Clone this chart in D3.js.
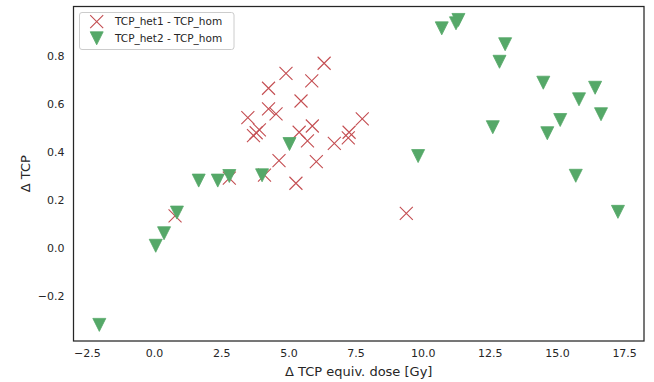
<!DOCTYPE html>
<html>
<head>
<meta charset="utf-8">
<script src="https://cdn.jsdelivr.net/npm/d3@7"></script>
<style>
  body { margin: 0; background: #fff; }
  svg { display: block; font-family: "DejaVu Sans", sans-serif; }
</style>
</head>
<body>
<svg width="654" height="382"></svg>
<script>
// Серия 1: TCP_het1 - TCP_hom (красные крестики)
const het1X = [6.33, 4.91, 5.87, 4.26, 5.47, 4.26, 4.54, 3.49, 7.75, 3.70, 3.80, 3.92,
               5.40, 5.89, 5.71, 6.71, 7.26, 7.23, 4.65, 6.04, 4.11, 5.28, 2.80, 0.78, 9.39];
const het1Y = [0.769, 0.727, 0.696, 0.665, 0.612, 0.579, 0.558, 0.543, 0.538, 0.468, 0.480, 0.492,
               0.482, 0.508, 0.446, 0.436, 0.482, 0.459, 0.364, 0.360, 0.304, 0.270, 0.291, 0.134, 0.145];

// Серия 2: TCP_het2 - TCP_hom (зелёные треугольники)
const het2X = [-2.04, 0.06, 0.37, 0.85, 1.66, 2.37, 2.80, 4.02, 5.04, 9.83, 10.71, 11.24,
               11.33, 13.07, 12.86, 12.61, 14.49, 14.64, 15.12, 15.82, 16.42, 16.64, 15.70, 17.27];
const het2Y = [-0.319, 0.010, 0.062, 0.148, 0.281, 0.281, 0.300, 0.303, 0.433, 0.383, 0.914, 0.935,
               0.949, 0.848, 0.775, 0.503, 0.688, 0.478, 0.533, 0.619, 0.667, 0.557, 0.301, 0.151];

const xTicks = [-2.5, 0, 2.5, 5, 7.5, 10, 12.5, 15, 17.5];
const yTicks = [-0.2, 0, 0.2, 0.4, 0.6, 0.8];
const legendLabels = ["TCP_het1 - TCP_hom", "TCP_het2 - TCP_hom"];

const colors = { red: "#c44e52", green: "#55a868", text: "#262626" };

let svg = d3.select("svg");

// Область графика
const area = { left: 73.5, right: 644, top: 6.5, bottom: 341 };

let scX = d3.scaleLinear().domain([-3.02, 18.24]).range([73, 644]);
let scY = d3.scaleLinear().domain([-0.386, 1.007]).range([341, 6]);

// Оси без засечек (стиль seaborn white)
let gx = svg.append("g")
    .attr("transform", `translate(0, ${area.bottom})`)
    .call(d3.axisBottom(scX).tickValues(xTicks).tickSize(0).tickPadding(8)
        .tickFormat(d3.format(".1f")));
let gy = svg.append("g")
    .attr("transform", `translate(${area.left}, 0)`)
    .call(d3.axisLeft(scY).tickValues(yTicks).tickSize(0).tickPadding(9)
        .tickFormat(d3.format(".1f")));
[gx, gy].forEach(g => {
    g.select(".domain").remove();
    g.selectAll("text").attr("font-size", 11).attr("fill", colors.text)
        .attr("font-family", "DejaVu Sans");
});

// Подписи осей
svg.append("text")
    .attr("x", (area.left + area.right) / 2)
    .attr("y", 376)
    .attr("text-anchor", "middle")
    .attr("font-size", 13)
    .attr("fill", colors.text)
    .text("Δ TCP equiv. dose [Gy]");

svg.append("text")
    .attr("transform", `translate(30, ${(area.top + area.bottom) / 2}) rotate(-90)`)
    .attr("text-anchor", "middle")
    .attr("font-size", 13)
    .attr("fill", colors.text)
    .text("Δ TCP");

// Крестики и треугольники
const s = 6.5;
function crossPath(cx, cy) {
    return `M${cx - s},${cy - s}L${cx + s},${cy + s}M${cx - s},${cy + s}L${cx + s},${cy - s}`;
}
function triPath(cx, cy) {
    return `M${cx - s},${cy - s}L${cx + s},${cy - s}L${cx},${cy + s}Z`;
}

let plot = svg.append("g");

plot.selectAll(".cross")
    .data(d3.range(het1X.length))
    .enter()
    .append("path")
    .attr("class", "cross")
    .attr("d", i => crossPath(scX(het1X[i]), scY(het1Y[i])))
    .attr("fill", "none")
    .attr("stroke", colors.red)
    .attr("stroke-width", 1.1);

plot.selectAll(".tri")
    .data(d3.range(het2X.length))
    .enter()
    .append("path")
    .attr("class", "tri")
    .attr("d", i => triPath(scX(het2X[i]), scY(het2Y[i])))
    .attr("fill", colors.green)
    .attr("stroke", colors.green)
    .attr("stroke-width", 0.8);

// Рамка
svg.append("rect")
    .attr("x", area.left)
    .attr("y", area.top)
    .attr("width", area.right - area.left)
    .attr("height", area.bottom - area.top)
    .attr("fill", "none")
    .attr("stroke", colors.text)
    .attr("stroke-width", 1.25);

// Легенда
let legend = svg.append("g");
legend.append("rect")
    .attr("x", 79.5).attr("y", 12.5)
    .attr("width", 154.5).attr("height", 37)
    .attr("rx", 2.5)
    .attr("fill", "#fff").attr("fill-opacity", 0.8)
    .attr("stroke", "#cccccc").attr("stroke-width", 1);

legend.append("path")
    .attr("d", crossPath(96.7, 21.7))
    .attr("fill", "none").attr("stroke", colors.red).attr("stroke-width", 1.1);
legend.append("path")
    .attr("d", triPath(96.7, 38.3))
    .attr("fill", colors.green).attr("stroke", colors.green).attr("stroke-width", 0.8);

legendLabels.forEach((t, i) => {
    legend.append("text")
        .attr("x", 115)
        .attr("y", 21.7 + i * 16.6)
        .attr("dy", "0.35em")
        .attr("font-size", 10.5)
        .attr("fill", colors.text)
        .text(t);
});
</script>
</body>
</html>
